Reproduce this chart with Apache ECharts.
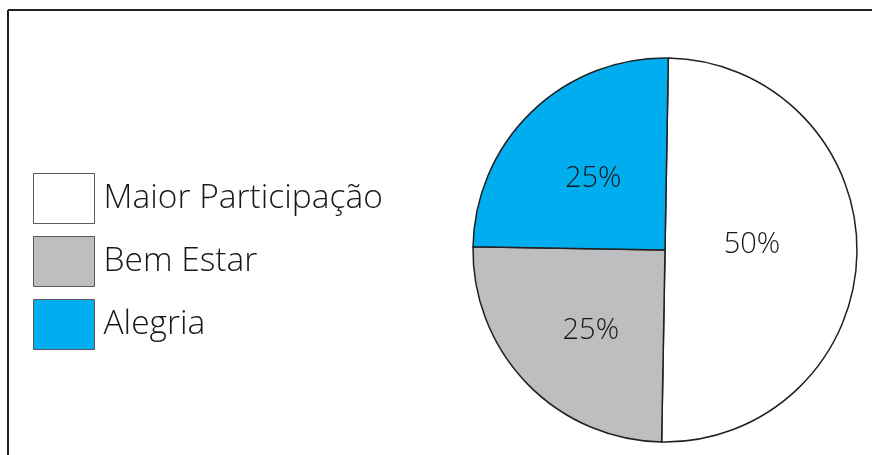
<!DOCTYPE html>
<html>
<head>
<meta charset="utf-8">
<title>Pie</title>
<script src="https://cdn.jsdelivr.net/npm/echarts@6/dist/echarts.min.js"></script>
<style>
  html, body { margin: 0; padding: 0; background: #fff; }
  #chart { width: 872px; height: 455px; }
</style>
</head>
<body>
<div id="chart"></div>
<script>
'use strict';

// dados do gráfico
const categories = ['Maior Participação', 'Bem Estar', 'Alegria'];
const values = [50, 25, 25];
const colors = ['#ffffff', '#bcbec0', '#00aeef'];

window.addEventListener('load', () => {
    const box = document.getElementById('chart');
    const chart = echarts.init(box);

    // pequenos ajustes nas posições dos rótulos
    const labelOffsets = [[-12, -7], [-3, 12], [-3, 0]];

    const data = categories.map((name, i) => ({
        name: name,
        value: values[i],
        itemStyle: { color: colors[i] },
        label: { offset: labelOffsets[i] }
    }));

    const option = {
        animation: false,
        legend: {
            orient: 'vertical',
            left: 28,
            top: 168,
            icon: 'rect',
            itemWidth: 61,
            itemHeight: 50,
            itemGap: 12,
            selectedMode: false,
            itemStyle: { borderColor: '#58595b', borderWidth: 1 },
            textStyle: {
                fontFamily: 'Open Sans',
                fontWeight: 300,
                fontSize: 33.5,
                color: '#1a1718',
                padding: [0, 0, 0, 4]
            },
            data: categories
        },
        graphic: [
            { type: 'line', shape: { x1: 8, y1: 10, x2: 872, y2: 10 }, style: { stroke: '#231f20', lineWidth: 2 } },
            { type: 'line', shape: { x1: 8, y1: 10, x2: 8, y2: 455 }, style: { stroke: '#231f20', lineWidth: 2 } }
        ],
        series: [
            {
                type: 'pie',
                center: [665, 250],
                radius: 192,
                startAngle: 89,
                clockwise: true,
                silent: true,
                itemStyle: { borderColor: '#231f20', borderWidth: 1.5 },
                label: {
                    position: 'inside',
                    formatter: '{d}%',
                    fontFamily: 'Open Sans',
                    fontWeight: 300,
                    fontSize: 29,
                    color: '#1a1718'
                },
                labelLine: { show: false },
                data: data
            }
        ]
    };
    chart.setOption(option);
});
</script>
</body>
</html>
